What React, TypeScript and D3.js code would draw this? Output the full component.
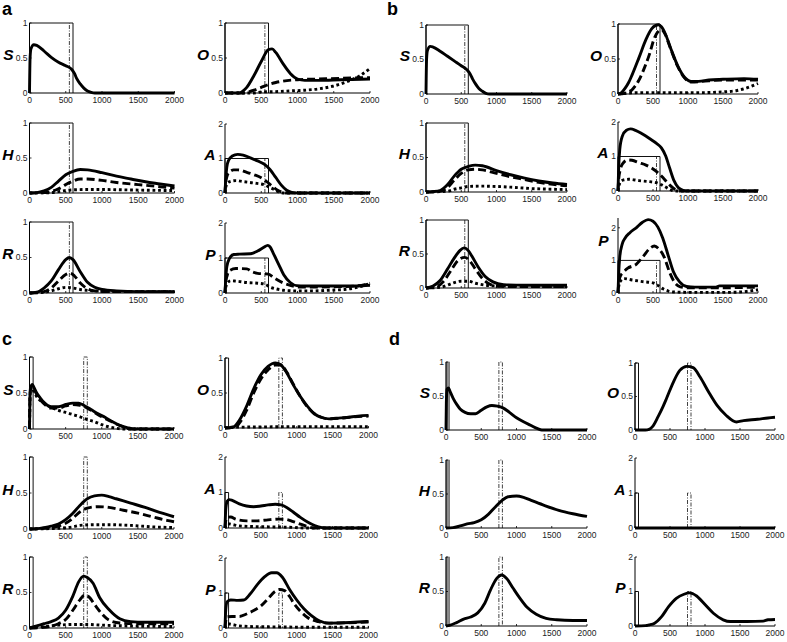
import React from "react";
import * as d3 from "d3";

type Pt = [number, number];

// ---------- tick / label data ----------
const xTicks = [0, 500, 1000, 1500, 2000];
const yTicksUnit = [0, 0.5, 1];
const yTicksDouble = [0, 1, 2];
const panelLabels = ["a", "b", "c", "d"];
const pulseEarly: Pt = [0, 600];
const cueEarly = 550;
const pulseLate: Pt = [0, 50];
const cueLate: Pt = [750, 800];
const pulseLevel = 1;

// ---------- panel a ----------
const aS_solid: Pt[] = [[0,0],[8,0.5],[20,0.63],[60,0.69],[100,0.68],[200,0.6],[300,0.51],[400,0.44],[500,0.39],[580,0.34],[620,0.28],[650,0.21],[700,0.13],[750,0.07],[800,0.03],[850,0.01],[900,0],[2000,0]];
const aH_solid: Pt[] = [[0,0],[100,0.005],[200,0.03],[300,0.08],[400,0.17],[500,0.26],[600,0.31],[700,0.335],[800,0.33],[1000,0.29],[1200,0.24],[1400,0.2],[1600,0.16],[1800,0.13],[2000,0.1]];
const aH_dashed: Pt[] = [[0,0],[200,0.005],[300,0.02],[400,0.06],[500,0.12],[600,0.17],[700,0.2],[800,0.2],[1000,0.18],[1200,0.15],[1500,0.12],[1800,0.09],[2000,0.07]];
const aH_dotted: Pt[] = [[0,0],[300,0.005],[400,0.02],[500,0.035],[600,0.045],[800,0.05],[1000,0.05],[1300,0.045],[1600,0.04],[2000,0.035]];
const aR_solid: Pt[] = [[0,0],[100,0.01],[200,0.07],[300,0.17],[400,0.33],[500,0.47],[550,0.5],[600,0.47],[700,0.3],[800,0.15],[900,0.08],[1000,0.05],[1200,0.03],[1500,0.02],[2000,0.02]];
const aR_dashed: Pt[] = [[0,0],[200,0.02],[300,0.07],[400,0.17],[500,0.26],[560,0.28],[620,0.24],[700,0.14],[800,0.06],[900,0.03],[1100,0.02],[2000,0.02]];
const aR_dotted: Pt[] = [[0,0],[200,0.01],[300,0.03],[400,0.06],[500,0.08],[600,0.07],[700,0.05],[900,0.03],[1200,0.02],[2000,0.02]];
const aO_solid: Pt[] = [[0,0],[200,0],[250,0.03],[300,0.08],[400,0.25],[500,0.45],[600,0.62],[650,0.63],[700,0.58],[800,0.42],[900,0.28],[1000,0.2],[1100,0.18],[1300,0.18],[1600,0.19],[2000,0.2]];
const aO_dashed: Pt[] = [[0,0],[250,0],[300,0.01],[400,0.04],[500,0.08],[600,0.12],[700,0.15],[800,0.17],[1000,0.19],[1300,0.2],[1600,0.21],[2000,0.22]];
const aO_dotted: Pt[] = [[0,0],[400,0],[500,0.015],[700,0.02],[900,0.03],[1100,0.04],[1300,0.06],[1500,0.1],[1700,0.17],[1850,0.24],[2000,0.35]];
const aA_solid: Pt[] = [[0,0],[10,0.4],[25,0.75],[50,0.95],[100,1.07],[175,1.12],[250,1.1],[350,1.02],[450,0.93],[550,0.82],[620,0.68],[700,0.45],[780,0.22],[850,0.08],[920,0.02],[1000,0],[2000,0]];
const aA_dashed: Pt[] = [[0,0],[10,0.3],[30,0.5],[60,0.6],[120,0.67],[180,0.67],[300,0.6],[400,0.53],[500,0.44],[580,0.32],[650,0.2],[720,0.09],[800,0.02],[850,0],[2000,0]];
const aA_dotted: Pt[] = [[0,0],[10,0.15],[30,0.28],[80,0.34],[150,0.36],[250,0.33],[400,0.29],[550,0.23],[620,0.16],[680,0.1],[740,0.03],[800,0],[2000,0]];
const aP_solid: Pt[] = [[0,0],[10,0.4],[25,0.75],[60,0.98],[120,1.1],[200,1.11],[350,1.12],[450,1.2],[530,1.3],[590,1.36],[620,1.32],[670,1.12],[740,0.82],[810,0.52],[900,0.3],[990,0.21],[1100,0.2],[1500,0.2],[1800,0.2],[2000,0.22]];
const aP_dashed: Pt[] = [[0,0],[10,0.3],[30,0.5],[70,0.65],[150,0.7],[300,0.69],[380,0.6],[450,0.56],[600,0.54],[670,0.44],[800,0.29],[900,0.22],[1000,0.17],[1200,0.17],[1500,0.18],[1800,0.2],[2000,0.28]];
const aP_dotted: Pt[] = [[0,0],[10,0.15],[30,0.28],[80,0.35],[150,0.34],[300,0.3],[450,0.28],[550,0.25],[620,0.17],[700,0.12],[800,0.08],[1000,0.06],[1200,0.06],[1450,0.08],[1650,0.1],[1820,0.16],[2000,0.27]];

// ---------- panel b ----------
const bS_solid: Pt[] = [[0,0],[8,0.5],[20,0.63],[60,0.69],[100,0.68],[200,0.62],[300,0.55],[400,0.48],[500,0.41],[580,0.35],[620,0.3],[660,0.22],[700,0.15],[750,0.08],[800,0.04],[850,0.01],[900,0],[2000,0]];
const bH_solid: Pt[] = [[0,0],[100,0.005],[200,0.02],[300,0.1],[400,0.23],[500,0.33],[600,0.37],[700,0.39],[800,0.38],[1000,0.31],[1200,0.25],[1400,0.2],[1600,0.16],[1800,0.13],[2000,0.11]];
const bH_dashed: Pt[] = [[0,0],[200,0.01],[300,0.06],[400,0.17],[500,0.27],[600,0.32],[700,0.33],[800,0.32],[1000,0.27],[1200,0.22],[1400,0.18],[1600,0.14],[1800,0.11],[2000,0.09]];
const bH_dotted: Pt[] = [[0,0],[300,0.01],[400,0.04],[500,0.06],[600,0.08],[800,0.085],[1000,0.08],[1200,0.07],[1500,0.05],[1800,0.04],[2000,0.035]];
const bR_solid: Pt[] = [[0,0],[100,0.03],[200,0.11],[300,0.27],[400,0.44],[480,0.55],[540,0.59],[600,0.55],[650,0.47],[740,0.31],[840,0.17],[950,0.09],[1100,0.05],[1400,0.04],[2000,0.04]];
const bR_dashed: Pt[] = [[0,0],[150,0.02],[250,0.1],[350,0.25],[450,0.4],[550,0.45],[620,0.4],[700,0.28],[800,0.14],[900,0.06],[1000,0.03],[1200,0.02],[2000,0.02]];
const bR_dotted: Pt[] = [[0,0],[200,0.01],[300,0.04],[400,0.08],[500,0.1],[600,0.1],[700,0.07],[850,0.04],[1000,0.03],[2000,0.02]];
const bO_solid: Pt[] = [[0,0],[50,0.02],[100,0.08],[150,0.16],[200,0.27],[300,0.52],[400,0.78],[480,0.93],[540,0.98],[580,0.99],[620,0.96],[680,0.85],[750,0.66],[850,0.41],[950,0.24],[1050,0.18],[1150,0.18],[1300,0.2],[1500,0.21],[1800,0.22],[2000,0.21]];
const bO_dashed: Pt[] = [[0,0],[100,0.01],[150,0.03],[200,0.06],[250,0.12],[300,0.2],[380,0.38],[450,0.57],[520,0.8],[580,0.9],[620,0.92],[680,0.84],[750,0.65],[850,0.4],[950,0.23],[1050,0.17],[1200,0.18],[1500,0.2],[2000,0.2]];
const bO_dotted: Pt[] = [[0,0],[100,0.01],[300,0.02],[800,0.02],[1200,0.02],[1500,0.03],[1700,0.05],[1850,0.09],[2000,0.15]];
const bA_solid: Pt[] = [[0,0],[10,0.7],[25,1.2],[60,1.58],[120,1.76],[180,1.8],[250,1.76],[350,1.65],[450,1.52],[550,1.38],[620,1.25],[680,1.02],[740,0.65],[800,0.3],[860,0.1],[930,0.02],[1000,0],[2000,0]];
const bA_dashed: Pt[] = [[0,0],[10,0.35],[30,0.6],[70,0.8],[140,0.9],[200,0.89],[300,0.82],[400,0.75],[500,0.64],[560,0.55],[650,0.37],[740,0.17],[820,0.04],[880,0],[2000,0]];
const bA_dotted: Pt[] = [[0,0],[10,0.12],[30,0.25],[80,0.32],[150,0.34],[300,0.3],[450,0.27],[550,0.24],[620,0.18],[700,0.09],[770,0.02],[820,0],[2000,0]];
const bP_solid: Pt[] = [[0,0],[10,0.6],[25,1.1],[60,1.5],[100,1.68],[170,1.85],[260,2.0],[350,2.17],[430,2.25],[500,2.2],[570,2.02],[640,1.68],[720,1.13],[790,0.66],[880,0.34],[980,0.2],[1100,0.18],[1400,0.18],[1450,0.22],[1800,0.22],[2000,0.22]];
const bP_dashed: Pt[] = [[0,0],[10,0.3],[30,0.5],[70,0.62],[140,0.76],[260,0.88],[360,1.12],[450,1.36],[520,1.44],[580,1.36],[660,1.1],[740,0.62],[810,0.32],[890,0.19],[1000,0.16],[1400,0.16],[2000,0.18]];
const bP_dotted: Pt[] = [[0,0],[10,0.2],[30,0.35],[90,0.44],[200,0.4],[350,0.35],[500,0.31],[580,0.22],[650,0.12],[720,0.06],[800,0.03],[1000,0.02],[1600,0.02],[1800,0.04],[2000,0.1]];

// ---------- panel c ----------
const cS_solid: Pt[] = [[0,0],[5,0.4],[15,0.58],[40,0.62],[60,0.58],[100,0.5],[150,0.43],[200,0.37],[300,0.31],[400,0.31],[500,0.34],[600,0.36],[680,0.36],[750,0.33],[850,0.27],[950,0.21],[1050,0.16],[1150,0.1],[1250,0.05],[1350,0.02],[1450,0],[2000,0]];
const cS_dashed: Pt[] = [[0,0],[5,0.35],[15,0.55],[40,0.6],[60,0.56],[100,0.48],[200,0.35],[300,0.29],[400,0.29],[500,0.32],[600,0.34],[700,0.33],[800,0.29],[900,0.23],[1000,0.17],[1100,0.12],[1200,0.07],[1300,0.03],[1400,0],[2000,0]];
const cS_dotted: Pt[] = [[0,0],[10,0.5],[30,0.58],[60,0.52],[100,0.45],[200,0.36],[300,0.3],[400,0.26],[500,0.23],[600,0.2],[700,0.17],[800,0.13],[900,0.1],[1000,0.06],[1100,0.03],[1200,0.01],[1300,0],[2000,0]];
const cH_solid: Pt[] = [[0,0],[100,0.005],[200,0.02],[300,0.04],[400,0.07],[500,0.13],[600,0.22],[700,0.33],[800,0.42],[900,0.46],[1000,0.47],[1100,0.45],[1200,0.42],[1400,0.36],[1600,0.3],[1800,0.23],[2000,0.17]];
const cH_dashed: Pt[] = [[0,0],[200,0.01],[400,0.04],[500,0.08],[600,0.15],[700,0.24],[800,0.29],[950,0.31],[1100,0.3],[1300,0.26],[1500,0.22],[1700,0.17],[1900,0.12],[2000,0.1]];
const cH_dotted: Pt[] = [[0,0],[400,0.01],[600,0.03],[700,0.05],[900,0.06],[1100,0.06],[1400,0.05],[1700,0.03],[2000,0.02]];
const cR_solid: Pt[] = [[0,0],[100,0.03],[200,0.06],[300,0.09],[400,0.14],[500,0.25],[600,0.45],[680,0.65],[750,0.73],[800,0.71],[880,0.63],[970,0.43],[1100,0.26],[1250,0.13],[1400,0.09],[1600,0.08],[2000,0.08]];
const cR_dashed: Pt[] = [[0,0],[200,0.01],[400,0.06],[500,0.12],[600,0.25],[700,0.4],[760,0.46],[820,0.44],[900,0.33],[1000,0.2],[1100,0.11],[1250,0.07],[1500,0.06],[2000,0.06]];
const cR_dotted: Pt[] = [[0,0],[200,0.02],[400,0.04],[600,0.05],[800,0.05],[1000,0.04],[1300,0.03],[2000,0.02]];
const cO_solid: Pt[] = [[0,0],[100,0.01],[150,0.04],[200,0.11],[300,0.31],[400,0.56],[500,0.76],[600,0.88],[700,0.93],[780,0.9],[860,0.79],[950,0.62],[1050,0.45],[1150,0.31],[1250,0.2],[1350,0.15],[1450,0.13],[1550,0.14],[1700,0.15],[1850,0.17],[2000,0.18]];
const cO_dashed: Pt[] = [[0,0],[150,0.02],[200,0.07],[300,0.25],[400,0.5],[500,0.7],[600,0.83],[700,0.9],[780,0.9],[860,0.8],[950,0.63],[1050,0.45],[1150,0.3],[1250,0.2],[1350,0.15],[1450,0.13],[1600,0.14],[1800,0.16],[2000,0.17]];
const cO_dotted: Pt[] = [[0,0],[50,0.01],[500,0.015],[1000,0.02],[1500,0.02],[2000,0.02]];
const cA_solid: Pt[] = [[0,0],[10,0.5],[30,0.75],[60,0.8],[100,0.78],[200,0.68],[300,0.62],[400,0.6],[500,0.62],[600,0.65],[700,0.67],[780,0.65],[860,0.58],[950,0.45],[1050,0.3],[1150,0.17],[1250,0.07],[1350,0.01],[1400,0],[2000,0]];
const cA_dashed: Pt[] = [[0,0],[10,0.2],[30,0.3],[80,0.31],[150,0.25],[300,0.2],[450,0.2],[600,0.23],[750,0.25],[850,0.24],[950,0.18],[1050,0.11],[1150,0.04],[1250,0],[2000,0]];
const cA_dotted: Pt[] = [[0,0],[10,0.08],[40,0.12],[100,0.1],[200,0.06],[400,0.04],[700,0.03],[900,0.02],[1100,0],[2000,0]];
const cP_solid: Pt[] = [[0,0],[10,0.5],[30,0.75],[80,0.8],[180,0.79],[260,0.8],[350,0.97],[450,1.24],[550,1.46],[650,1.58],[720,1.58],[800,1.45],[900,1.1],[1000,0.8],[1100,0.55],[1200,0.36],[1320,0.2],[1450,0.14],[1650,0.15],[1850,0.17],[2000,0.19]];
const cP_dashed: Pt[] = [[0,0],[10,0.2],[30,0.32],[100,0.33],[200,0.33],[300,0.4],[400,0.5],[500,0.63],[600,0.84],[700,1.05],[760,1.1],[830,1.07],[900,0.9],[960,0.7],[1050,0.48],[1150,0.3],[1300,0.18],[1450,0.14],[1700,0.15],[2000,0.17]];
const cP_dotted: Pt[] = [[0,0],[10,0.08],[40,0.12],[100,0.1],[200,0.06],[400,0.04],[800,0.03],[1200,0.02],[2000,0.02]];

// ---------- panel d ----------
const dS_solid: Pt[] = [[0,0],[5,0.4],[15,0.6],[35,0.62],[60,0.56],[100,0.47],[150,0.38],[200,0.31],[270,0.26],[350,0.24],[420,0.24],[500,0.29],[580,0.34],[650,0.36],[730,0.35],[800,0.33],[900,0.26],[1000,0.18],[1100,0.12],[1200,0.07],[1300,0.02],[1360,0],[2000,0]];
const dH_solid: Pt[] = [[0,0],[100,0.005],[200,0.03],[300,0.06],[400,0.08],[500,0.12],[600,0.2],[700,0.31],[800,0.41],[880,0.46],[1000,0.47],[1100,0.45],[1200,0.41],[1400,0.33],[1600,0.26],[1800,0.21],[2000,0.17]];
const dR_solid: Pt[] = [[0,0],[50,0.01],[150,0.05],[250,0.1],[350,0.13],[450,0.19],[550,0.33],[630,0.52],[720,0.69],[790,0.74],[860,0.69],[950,0.55],[1050,0.4],[1150,0.27],[1280,0.17],[1420,0.11],[1570,0.09],[1800,0.08],[2000,0.08]];
const dO_solid: Pt[] = [[0,0],[150,0],[200,0.01],[250,0.05],[330,0.2],[400,0.35],[450,0.47],[550,0.72],[640,0.89],[740,0.95],[830,0.93],[930,0.79],[1050,0.57],[1170,0.37],[1300,0.22],[1450,0.12],[1550,0.14],[1750,0.16],[1900,0.18],[2000,0.19]];
const dA_solid: Pt[] = [[0,0],[2000,0]];
const dP_solid: Pt[] = [[0,0],[150,0.01],[200,0.03],[280,0.08],[380,0.27],[480,0.56],[590,0.8],[700,0.92],[780,0.96],[880,0.87],[1000,0.62],[1120,0.37],[1260,0.18],[1360,0.13],[1600,0.13],[1830,0.14],[1900,0.18],[2000,0.19]];

// ---------- layout ----------
type Sub = {
  letter: string;
  left: number; right: number; top: number; bottom: number;
  ymax: number; ticks: number[];
  solid: Pt[]; dashed?: Pt[]; dotted?: Pt[];
  late: boolean; grayPulse?: boolean;
  letterDy?: number;
};

const FONT = "'Liberation Sans', Arial, Helvetica, sans-serif";

const subs: Sub[] = [
  // panel a
  { letter: "S", left: 29.5, right: 174.5, top: 23, bottom: 93, ymax: 1, ticks: yTicksUnit, solid: aS_solid, late: false },
  { letter: "H", left: 29.5, right: 174.5, top: 123, bottom: 193, ymax: 1, ticks: yTicksUnit, solid: aH_solid, dashed: aH_dashed, dotted: aH_dotted, late: false },
  { letter: "R", left: 29.5, right: 174.5, top: 222, bottom: 293, ymax: 1, ticks: yTicksUnit, solid: aR_solid, dashed: aR_dashed, dotted: aR_dotted, late: false },
  { letter: "O", left: 225, right: 370, top: 23, bottom: 93, ymax: 1, ticks: yTicksUnit, solid: aO_solid, dashed: aO_dashed, dotted: aO_dotted, late: false },
  { letter: "A", left: 225, right: 370, top: 124, bottom: 193, ymax: 2, ticks: yTicksDouble, solid: aA_solid, dashed: aA_dashed, dotted: aA_dotted, late: false },
  { letter: "P", left: 225, right: 370, top: 223, bottom: 293, ymax: 2, ticks: yTicksDouble, solid: aP_solid, dashed: aP_dashed, dotted: aP_dotted, late: false },
  // panel b
  { letter: "S", left: 426, right: 567, top: 25, bottom: 94, ymax: 1, ticks: yTicksUnit, solid: bS_solid, late: false },
  { letter: "H", left: 426, right: 567, top: 123, bottom: 192, ymax: 1, ticks: yTicksUnit, solid: bH_solid, dashed: bH_dashed, dotted: bH_dotted, late: false },
  { letter: "R", left: 426, right: 567, top: 220, bottom: 288, ymax: 1, ticks: yTicksUnit, solid: bR_solid, dashed: bR_dashed, dotted: bR_dotted, late: false },
  { letter: "O", left: 618, right: 758, top: 24, bottom: 94, ymax: 1, ticks: yTicksUnit, solid: bO_solid, dashed: bO_dashed, dotted: bO_dotted, late: false },
  { letter: "A", left: 618, right: 758, top: 122, bottom: 191, ymax: 2, ticks: yTicksDouble, solid: bA_solid, dashed: bA_dashed, dotted: bA_dotted, late: false },
  { letter: "P", left: 618, right: 758, top: 218, bottom: 293, ymax: 2.3, ticks: yTicksDouble, solid: bP_solid, dashed: bP_dashed, dotted: bP_dotted, late: false, letterDy: -16 },
  // panel c
  { letter: "S", left: 29.5, right: 174, top: 357, bottom: 429, ymax: 1, ticks: yTicksUnit, solid: cS_solid, dashed: cS_dashed, dotted: cS_dotted, late: true },
  { letter: "H", left: 29.5, right: 174, top: 457, bottom: 529, ymax: 1, ticks: yTicksUnit, solid: cH_solid, dashed: cH_dashed, dotted: cH_dotted, late: true },
  { letter: "R", left: 29.5, right: 174, top: 557, bottom: 628, ymax: 1, ticks: yTicksUnit, solid: cR_solid, dashed: cR_dashed, dotted: cR_dotted, late: true },
  { letter: "O", left: 225, right: 368.5, top: 358, bottom: 428, ymax: 1, ticks: yTicksUnit, solid: cO_solid, dashed: cO_dashed, dotted: cO_dotted, late: true },
  { letter: "A", left: 225, right: 368.5, top: 457, bottom: 528, ymax: 2, ticks: yTicksDouble, solid: cA_solid, dashed: cA_dashed, dotted: cA_dotted, late: true },
  { letter: "P", left: 225, right: 368.5, top: 558, bottom: 628, ymax: 2, ticks: yTicksDouble, solid: cP_solid, dashed: cP_dashed, dotted: cP_dotted, late: true },
  // panel d
  { letter: "S", left: 446, right: 587, top: 362, bottom: 430, ymax: 1, ticks: yTicksUnit, solid: dS_solid, late: true, grayPulse: true },
  { letter: "H", left: 446, right: 587, top: 460, bottom: 528, ymax: 1, ticks: yTicksUnit, solid: dH_solid, late: true, grayPulse: true },
  { letter: "R", left: 446, right: 587, top: 557, bottom: 626, ymax: 1, ticks: yTicksUnit, solid: dR_solid, late: true, grayPulse: true },
  { letter: "O", left: 635, right: 775, top: 363, bottom: 430, ymax: 1, ticks: yTicksUnit, solid: dO_solid, late: true },
  { letter: "A", left: 635, right: 775, top: 458, bottom: 528, ymax: 2, ticks: yTicksDouble, solid: dA_solid, late: true },
  { letter: "P", left: 635, right: 775, top: 557, bottom: 626, ymax: 2, ticks: yTicksDouble, solid: dP_solid, late: true },
];

const panelLabelPos: Pt[] = [[2, 15], [387, 15], [2, 345], [389, 345]];

function Subplot({ s }: { s: Sub }) {
  const x = d3.scaleLinear().domain([0, 2000]).range([s.left, s.right]);
  const y = d3.scaleLinear().domain([0, s.ymax]).range([s.bottom, s.top]);
  const line = d3.line<Pt>().x((d) => x(d[0])).y((d) => y(d[1])).curve(d3.curveMonotoneX);
  const lw = 2.9;
  const mid = s.ticks[1];
  const letterEnd = mid === 0.5 ? s.left - 16 : s.left - 9.5;
  const letterBase = y(mid) + 1.5 + (s.letterDy ?? 0);

  const pulse = s.late ? pulseLate : pulseEarly;
  const pulsePath = `M${x(pulse[0])},${y(0)}V${y(pulseLevel)}H${x(pulse[1])}V${y(0)}`;
  const cuePath = s.late
    ? `M${x(cueLate[0])},${y(0)}V${y(pulseLevel)}H${x(cueLate[1])}V${y(0)}`
    : `M${x(cueEarly)},${y(0)}V${y(pulseLevel)}`;

  return (
    <g>
      {s.grayPulse ? (
        <rect x={x(pulse[0])} y={y(pulseLevel)} width={x(pulse[1]) - x(pulse[0])} height={y(0) - y(pulseLevel)} fill="#8a8a8a" stroke="#555" strokeWidth={0.6} />
      ) : (
        <path d={pulsePath} fill="none" stroke="#111" strokeWidth={1} />
      )}
      <path d={cuePath} fill="none" stroke="#111" strokeWidth={0.8} strokeDasharray="4,1.5,1,1.5" />
      {s.dotted && (
        <path d={line(s.dotted) || ""} fill="none" stroke="#000" strokeWidth={lw} strokeDasharray="2.8,2.8" />
      )}
      {s.dashed && (
        <path d={line(s.dashed) || ""} fill="none" stroke="#000" strokeWidth={lw} strokeDasharray="8,4" />
      )}
      <path d={line(s.solid) || ""} fill="none" stroke="#000" strokeWidth={lw} strokeLinejoin="round" />
      <line x1={s.left} x2={s.left} y1={s.top} y2={s.bottom} stroke="#000" strokeWidth={1} />
      <line x1={s.left} x2={s.right} y1={s.bottom} y2={s.bottom} stroke="#000" strokeWidth={1} />
      {xTicks.map((t) => (
        <g key={"x" + t}>
          <line x1={x(t)} x2={x(t)} y1={s.bottom} y2={s.bottom - 2} stroke="#000" strokeWidth={0.8} />
          <text x={x(t)} y={s.bottom + 9.5} fontSize={8.5} textAnchor="middle" fontFamily={FONT} fill="#222">{t}</text>
        </g>
      ))}
      {s.ticks.map((t) => (
        <g key={"y" + t}>
          <line x1={s.left} x2={s.left + 2} y1={y(t)} y2={y(t)} stroke="#000" strokeWidth={0.8} />
          <text x={s.left - 2} y={y(t)} dy="0.35em" fontSize={8.5} textAnchor="end" fontFamily={FONT} fill="#222">{String(t)}</text>
        </g>
      ))}
      <text x={letterEnd} y={letterBase} fontSize={15.5} fontWeight="bold" fontStyle="italic" textAnchor="end" fontFamily={FONT} fill="#000">{s.letter}</text>
    </g>
  );
}

export default function App() {
  return (
    <svg width={787} height={642} viewBox="0 0 787 642" style={{ position: "absolute", left: 0, top: 0, background: "#fff" }}>
      <rect x={0} y={0} width={787} height={642} fill="#fff" />
      {panelLabels.map((p, i) => (
        <text key={p} x={panelLabelPos[i][0]} y={panelLabelPos[i][1]} fontSize={18} fontWeight="bold" fontFamily={FONT} fill="#000">{p}</text>
      ))}
      {subs.map((s, i) => (
        <Subplot key={i} s={s} />
      ))}
    </svg>
  );
}
